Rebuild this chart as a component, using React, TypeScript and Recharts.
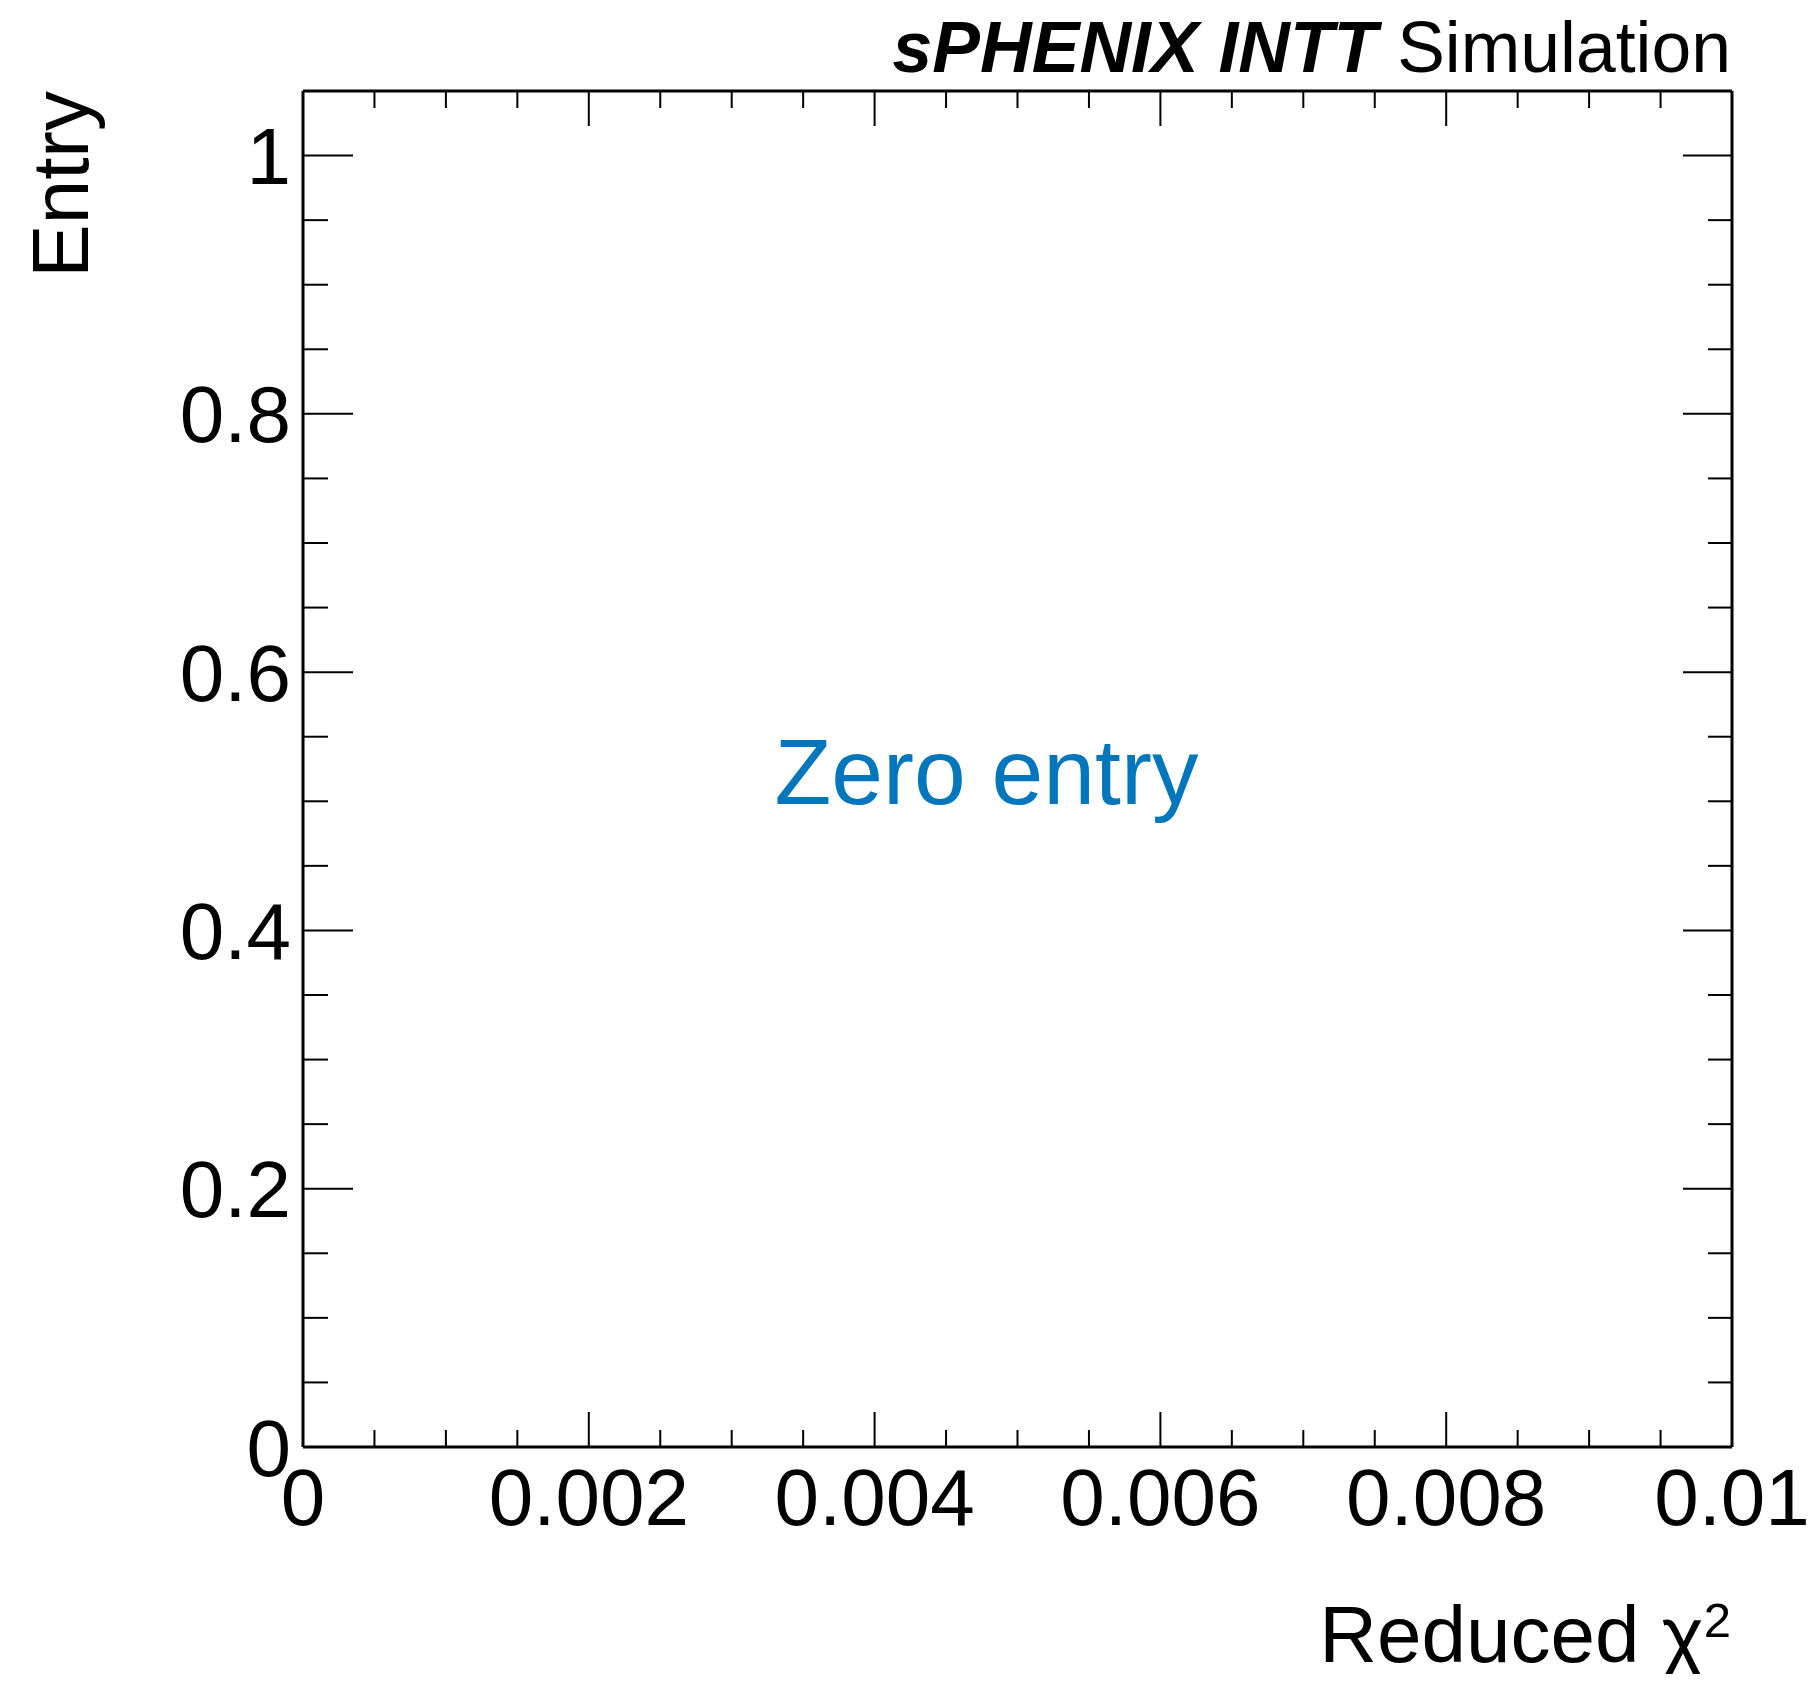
import React from "react";
import { ComposedChart, XAxis, YAxis, Bar, ReferenceDot } from "recharts";

// Histogram bins (empty histogram: zero entries)
const binCenters = [0.0005, 0.0015, 0.0025, 0.0035, 0.0045, 0.0055, 0.0065, 0.0075, 0.0085, 0.0095];
const binCounts = [0, 0, 0, 0, 0, 0, 0, 0, 0, 0];

const xMajorTicks = [0, 0.002, 0.004, 0.006, 0.008, 0.01];
const xMajorLabels = ["0", "0.002", "0.004", "0.006", "0.008", "0.01"];
const xMinorTicks = [0.0005, 0.001, 0.0015, 0.0025, 0.003, 0.0035, 0.0045, 0.005, 0.0055, 0.0065, 0.007, 0.0075, 0.0085, 0.009, 0.0095];

const yMajorTicks = [0, 0.2, 0.4, 0.6, 0.8, 1];
const yMajorLabels = ["0", "0.2", "0.4", "0.6", "0.8", "1"];
const yMinorTicks = [0.05, 0.1, 0.15, 0.25, 0.3, 0.35, 0.45, 0.5, 0.55, 0.65, 0.7, 0.75, 0.85, 0.9, 0.95];

const titleBold = "sPHENIX INTT";
const titleNormal = " Simulation";
const xTitle = "Reduced ";
const xTitleSymbol = "\u03C7";
const xTitleSup = "2";
const yTitle = "Entry";
const noteText = "Zero entry";
const notePos = { x: 0.0033, y: 0.498 };

const data = binCenters.map((c, i) => ({ x: c, count: binCounts[i] }));
const xTicks = [...xMajorTicks, ...xMinorTicks].sort((a, b) => a - b);
const yTicks = [...yMajorTicks, ...yMinorTicks].sort((a, b) => a - b);

const FONT = "'Liberation Sans', Arial, Helvetica, sans-serif";
const idx = (arr: number[], v: number) => arr.findIndex((a) => Math.abs(a - v) < 1e-9);

const BottomTick = (p: any) => {
  const { x, y, payload } = p;
  const i = idx(xMajorTicks, payload.value);
  const len = i >= 0 ? 35 : 17;
  return (
    <g>
      <line x1={x} x2={x} y1={y} y2={y - len} stroke="#000" strokeWidth={2} />
      {i >= 0 && (
        <text x={x} y={y + 78} textAnchor="middle" fontSize={80} fontFamily={FONT} fill="#000">
          {xMajorLabels[i]}
        </text>
      )}
    </g>
  );
};
const TopTick = (p: any) => {
  const { x, y, payload } = p;
  const i = idx(xMajorTicks, payload.value);
  const len = i >= 0 ? 35 : 17;
  return <line x1={x} x2={x} y1={y} y2={y + len} stroke="#000" strokeWidth={2} />;
};
const LeftTick = (p: any) => {
  const { x, y, payload } = p;
  const i = idx(yMajorTicks, payload.value);
  const len = i >= 0 ? 50 : 25;
  return (
    <g>
      <line x1={x} x2={x + len} y1={y} y2={y} stroke="#000" strokeWidth={2} />
      {i >= 0 && (
        <text x={x - 12} y={y + 28.5} textAnchor="end" fontSize={80} fontFamily={FONT} fill="#000">
          {yMajorLabels[i]}
        </text>
      )}
    </g>
  );
};
const RightTick = (p: any) => {
  const { x, y, payload } = p;
  const i = idx(yMajorTicks, payload.value);
  const len = i >= 0 ? 49 : 24;
  return <line x1={x} x2={x - len} y1={y} y2={y} stroke="#000" strokeWidth={2} />;
};

const NoteLabel = (props: any) => {
  const vb = props.viewBox || {};
  const cx = vb.x + (vb.width || 0) / 2;
  const cy = vb.y + (vb.height || 0) / 2;
  return (
    <text x={cx} y={cy} textAnchor="start" fontSize={93} fontFamily={FONT} fill="#0076BC">
      {noteText}
    </text>
  );
};

export default function App() {
  const W = 1798;
  const H = 1666;
  const axisLine = { stroke: "#000", strokeWidth: 3 };
  return (
    <div style={{ position: "relative", width: W, height: H, background: "#fff", fontFamily: FONT }}>
      <ComposedChart
        width={W}
        height={H}
        data={data}
        margin={{ top: 82, right: 73, left: 0, bottom: 0 }}
      >
        <XAxis
          xAxisId="b"
          dataKey="x"
          type="number"
          domain={[0, 0.01]}
          allowDataOverflow
          ticks={xTicks}
          interval={0}
          orientation="bottom"
          height={227}
          tickSize={0}
          tickMargin={0}
          tickLine={false}
          axisLine={axisLine}
          tick={<BottomTick />}
        />
        <XAxis
          xAxisId="t"
          dataKey="x"
          type="number"
          domain={[0, 0.01]}
          allowDataOverflow
          ticks={xTicks}
          interval={0}
          orientation="top"
          height={1}
          tickSize={0}
          tickMargin={0}
          tickLine={false}
          axisLine={axisLine}
          tick={<TopTick />}
        />
        <YAxis
          yAxisId="l"
          type="number"
          domain={[0, 1.05]}
          allowDataOverflow
          ticks={yTicks}
          interval={0}
          orientation="left"
          width={295}
          tickSize={0}
          tickMargin={0}
          tickLine={false}
          axisLine={axisLine}
          tick={<LeftTick />}
        />
        <YAxis
          yAxisId="r"
          type="number"
          domain={[0, 1.05]}
          allowDataOverflow
          ticks={yTicks}
          interval={0}
          orientation="right"
          width={1}
          tickSize={0}
          tickMargin={0}
          tickLine={false}
          axisLine={axisLine}
          tick={<RightTick />}
        />
        <Bar xAxisId="b" yAxisId="l" dataKey="count" fill="none" stroke="#000" barSize={140} isAnimationActive={false} />
        <ReferenceDot
          xAxisId="b"
          yAxisId="l"
          x={notePos.x}
          y={notePos.y}
          r={0}
          fill="none"
          stroke="none"
          label={<NoteLabel />}
        />
      </ComposedChart>
      <svg
        width={W}
        height={H}
        style={{ position: "absolute", left: 0, top: 0, pointerEvents: "none" }}
      >
        <text x={1723} y={64} textAnchor="end" fontSize={71.5} fontFamily={FONT} fill="#000" style={{ whiteSpace: "pre" }}>
          <tspan fontWeight="bold" fontStyle="italic">{titleBold}</tspan>
          <tspan>{titleNormal}</tspan>
        </text>
        <text
          x={80}
          y={83}
          textAnchor="end"
          fontSize={80}
          fontFamily={FONT}
          fill="#000"
          transform="rotate(-90, 80, 83)"
        >
          {yTitle}
        </text>
        <text x={1723} y={1654} textAnchor="end" fontSize={80} fontFamily={FONT} fill="#000" style={{ whiteSpace: "pre" }}>
          <tspan>{xTitle}</tspan>
          <tspan>{xTitleSymbol}</tspan>
          <tspan dy={-25} fontSize={49}>{xTitleSup}</tspan>
        </text>
      </svg>
    </div>
  );
}
